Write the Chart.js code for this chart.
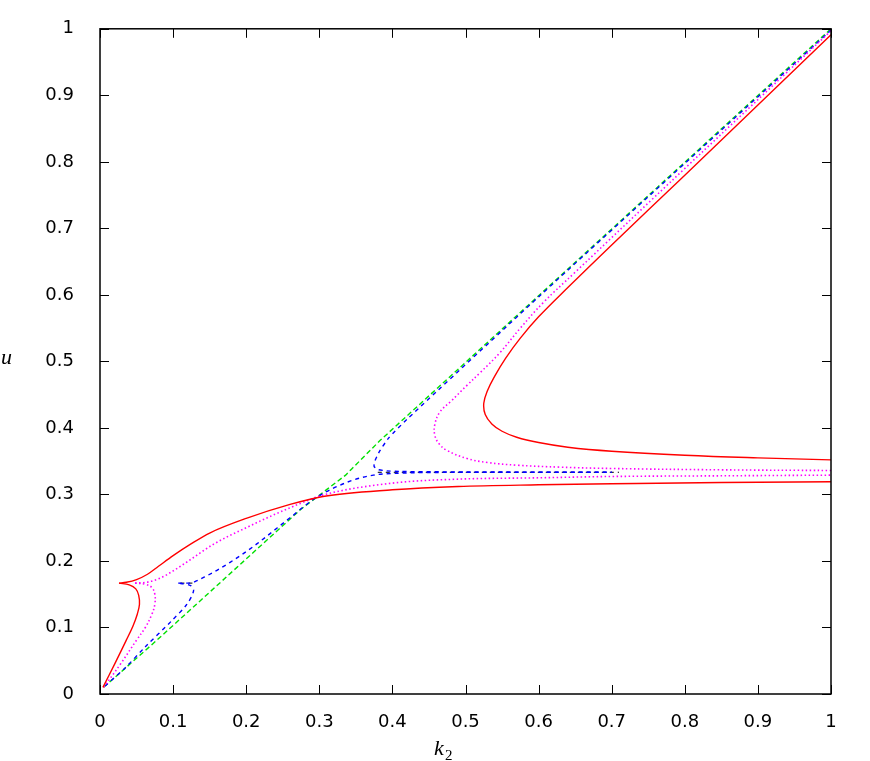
<!DOCTYPE html>
<html>
<head>
<meta charset="utf-8">
<script src="https://cdn.jsdelivr.net/npm/chart.js@4/dist/chart.umd.min.js"></script>
<style>
  html, body { margin: 0; padding: 0; background: white; }
  #wrap { width: 870px; height: 761px; position: relative; }
</style>
</head>
<body>
<div id="wrap"><canvas id="uChart"></canvas></div>
<script>
// k2 / u points, one pair of arrays per branch

// red, solid
const redLowK = [0.004, 0.020, 0.036, 0.045, 0.051, 0.054, 0.053, 0.049, 0.040, 0.026];
const redLowU = [0.010, 0.045, 0.081, 0.102, 0.120, 0.135, 0.148, 0.158, 0.164, 0.1667];
const redMidK = [0.026, 0.036, 0.050, 0.065, 0.080, 0.100, 0.125, 0.150, 0.200, 0.260, 0.305, 0.400, 0.490, 0.600, 0.700, 0.850, 1.000];
const redMidU = [0.1667, 0.168, 0.172, 0.180, 0.192, 0.208, 0.226, 0.242, 0.264, 0.285, 0.297, 0.307, 0.312, 0.3145, 0.316, 0.318, 0.319];
const redTopK = [1.000, 0.800, 0.700, 0.640, 0.600, 0.575, 0.555, 0.540, 0.530, 0.525, 0.527, 0.536, 0.550, 0.570, 0.600, 0.640, 0.700, 0.800, 0.900, 1.000];
const redTopU = [0.991, 0.780, 0.675, 0.611, 0.567, 0.535, 0.505, 0.478, 0.456, 0.437, 0.420, 0.406, 0.395, 0.386, 0.378, 0.371, 0.365, 0.359, 0.355, 0.352];

// magenta, dotted
const magLowK = [0.005, 0.028, 0.050, 0.062, 0.071, 0.075, 0.075, 0.071, 0.062, 0.048];
const magLowU = [0.010, 0.045, 0.081, 0.100, 0.120, 0.135, 0.150, 0.160, 0.165, 0.1667];
const magMidK = [0.048, 0.064, 0.082, 0.100, 0.121, 0.155, 0.200, 0.260, 0.305, 0.400, 0.490, 0.600, 0.700, 0.850, 1.000];
const magMidU = [0.1667, 0.168, 0.174, 0.185, 0.200, 0.225, 0.250, 0.280, 0.299, 0.317, 0.323, 0.325, 0.327, 0.328, 0.329];
const magTopK = [1.000, 0.800, 0.650, 0.606, 0.575, 0.547, 0.520, 0.502, 0.480, 0.465, 0.458, 0.458, 0.464, 0.475, 0.502, 0.530, 0.570, 0.630, 0.700, 0.850, 1.000];
const magTopU = [0.997, 0.790, 0.634, 0.588, 0.550, 0.513, 0.483, 0.464, 0.440, 0.424, 0.405, 0.389, 0.376, 0.366, 0.354, 0.348, 0.344, 0.341, 0.339, 0.337, 0.336];

// blue, dashed
const blueLowK = [0.007, 0.035, 0.062, 0.098, 0.119, 0.128, 0.124, 0.107];
const blueLowU = [0.012, 0.040, 0.071, 0.110, 0.135, 0.155, 0.163, 0.1667];
const blueMidK = [0.107, 0.123, 0.132, 0.145, 0.160, 0.178, 0.196, 0.215, 0.260, 0.294, 0.342, 0.374, 0.410, 0.500, 0.700];
const blueMidU = [0.1667, 0.1667, 0.170, 0.177, 0.186, 0.198, 0.211, 0.226, 0.265, 0.294, 0.320, 0.329, 0.332, 0.3332, 0.3333];
const blueTopK = [1.000, 0.600, 0.420, 0.395, 0.382, 0.376, 0.375, 0.380, 0.392, 0.410, 0.500, 0.700];
const blueTopU = [0.998, 0.597, 0.413, 0.385, 0.364, 0.350, 0.342, 0.3375, 0.3355, 0.3345, 0.3338, 0.3333];

// green, long dashes
const greenK = [0.005, 0.0775, 0.274, 0.336, 0.344, 0.383, 1.000];
const greenU = [0.010, 0.0806, 0.277, 0.329, 0.338, 0.381, 1.000];

// black dashed levels u = 1/6 and u = 1/3
const blackLowK = [0.110, 0.127];
const blackLowU = [0.1667, 0.1667];
const blackHighK = [0.380, 0.710];
const blackHighU = [0.3333, 0.3333];

const xTicks = [0, 0.1, 0.2, 0.3, 0.4, 0.5, 0.6, 0.7, 0.8, 0.9, 1];
const yTicks = [0, 0.1, 0.2, 0.3, 0.4, 0.5, 0.6, 0.7, 0.8, 0.9, 1];

function pts(ks, us) {
  return ks.map((k, i) => ({ x: k, y: us[i] }));
}

// mono = true when k2 only grows along the branch
function branch(ks, us, color, dash, width, mono, tension) {
  return {
    data: pts(ks, us),
    showLine: true,
    borderColor: color,
    borderWidth: width,
    borderDash: dash,
    pointRadius: 0,
    tension: tension,
    cubicInterpolationMode: mono ? 'monotone' : 'default',
    fill: false
  };
}

const RED = '#ff0000';
const MAG = '#ff00ff';
const BLUE = '#0000ff';
const GREEN = '#00e000';

const datasets = [
  branch(redLowK, redLowU, RED, [], 1.4, false, 0.4),
  branch(redMidK, redMidU, RED, [], 1.4, true, 0.4),
  branch(redTopK, redTopU, RED, [], 1.4, false, 0.4),
  branch(magLowK, magLowU, MAG, [1.5, 2.5], 1.6, false, 0.4),
  branch(magMidK, magMidU, MAG, [1.5, 2.5], 1.6, true, 0.4),
  branch(magTopK, magTopU, MAG, [1.5, 2.5], 1.6, false, 0.4),
  branch(blueLowK, blueLowU, BLUE, [4, 4], 1.4, false, 0.3),
  branch(blueMidK, blueMidU, BLUE, [4, 4], 1.4, true, 0.4),
  branch(blueTopK, blueTopU, BLUE, [4, 4], 1.4, false, 0.2),
  branch(greenK, greenU, GREEN, [5, 3], 1.4, false, 0),
  branch(blackLowK, blackLowU, '#000000', [4, 4], 1, false, 0),
  branch(blackHighK, blackHighU, '#000000', [4, 4], 1, false, 0)
];

// box, inward ticks and axis titles (gnuplot look)
const frame = {
  id: 'frame',
  afterDatasetsDraw(chart) {
    const { ctx, chartArea: a, scales } = chart;
    const len = 9;
    ctx.save();
    ctx.strokeStyle = '#000';
    ctx.lineWidth = 1;
    ctx.beginPath();
    xTicks.forEach(v => {
      const x = Math.round(scales.x.getPixelForValue(v)) + 0.5;
      ctx.moveTo(x, a.bottom); ctx.lineTo(x, a.bottom - len);
      ctx.moveTo(x, a.top); ctx.lineTo(x, a.top + len);
    });
    yTicks.forEach(v => {
      const y = Math.round(scales.y.getPixelForValue(v)) + 0.5;
      ctx.moveTo(a.left, y); ctx.lineTo(a.left + len, y);
      ctx.moveTo(a.right, y); ctx.lineTo(a.right - len, y);
    });
    ctx.stroke();
    ctx.lineWidth = 1.5;
    ctx.strokeRect(a.left, a.top, a.right - a.left, a.bottom - a.top);
    ctx.restore();
  },
  afterDraw(chart) {
    const { ctx } = chart;
    ctx.save();
    ctx.fillStyle = '#000';
    ctx.textBaseline = 'alphabetic';
    ctx.textAlign = 'left';
    ctx.font = 'italic 22px "Liberation Serif"';
    ctx.fillText('u', 1, 364);
    ctx.fillText('k', 434, 755);
    ctx.font = '15px "Liberation Serif"';
    ctx.fillText('2', 445, 760);
    ctx.restore();
  }
};

const tickText = v => String(Number(v.toFixed(1)));

const config = {
  type: 'scatter',
  data: { datasets: datasets },
  options: {
    responsive: true,
    maintainAspectRatio: false,
    animation: false,
    layout: { padding: { left: 0, top: 24, right: 39, bottom: 0 } },
    plugins: {
      legend: { display: false },
      tooltip: { enabled: false }
    },
    scales: {
      x: {
        type: 'linear',
        min: 0,
        max: 1,
        afterFit(scale) { scale.height = 67; },
        afterBuildTicks(scale) { scale.ticks = xTicks.map(v => ({ value: v })); },
        grid: { display: false },
        border: { display: false },
        ticks: {
          padding: 10,
          color: '#000',
          font: { family: '"DejaVu Sans"', size: 18 },
          maxRotation: 0,
          callback: tickText
        }
      },
      y: {
        type: 'linear',
        min: 0,
        max: 1,
        afterFit(scale) { scale.width = 100; },
        afterBuildTicks(scale) { scale.ticks = yTicks.map(v => ({ value: v })); },
        grid: { display: false },
        border: { display: false },
        ticks: {
          padding: 18,
          color: '#000',
          font: { family: '"DejaVu Sans"', size: 18 },
          callback: tickText
        }
      }
    }
  },
  plugins: [frame]
};

const U_Chart = new Chart(document.getElementById('uChart'), config);
</script>
</body>
</html>
